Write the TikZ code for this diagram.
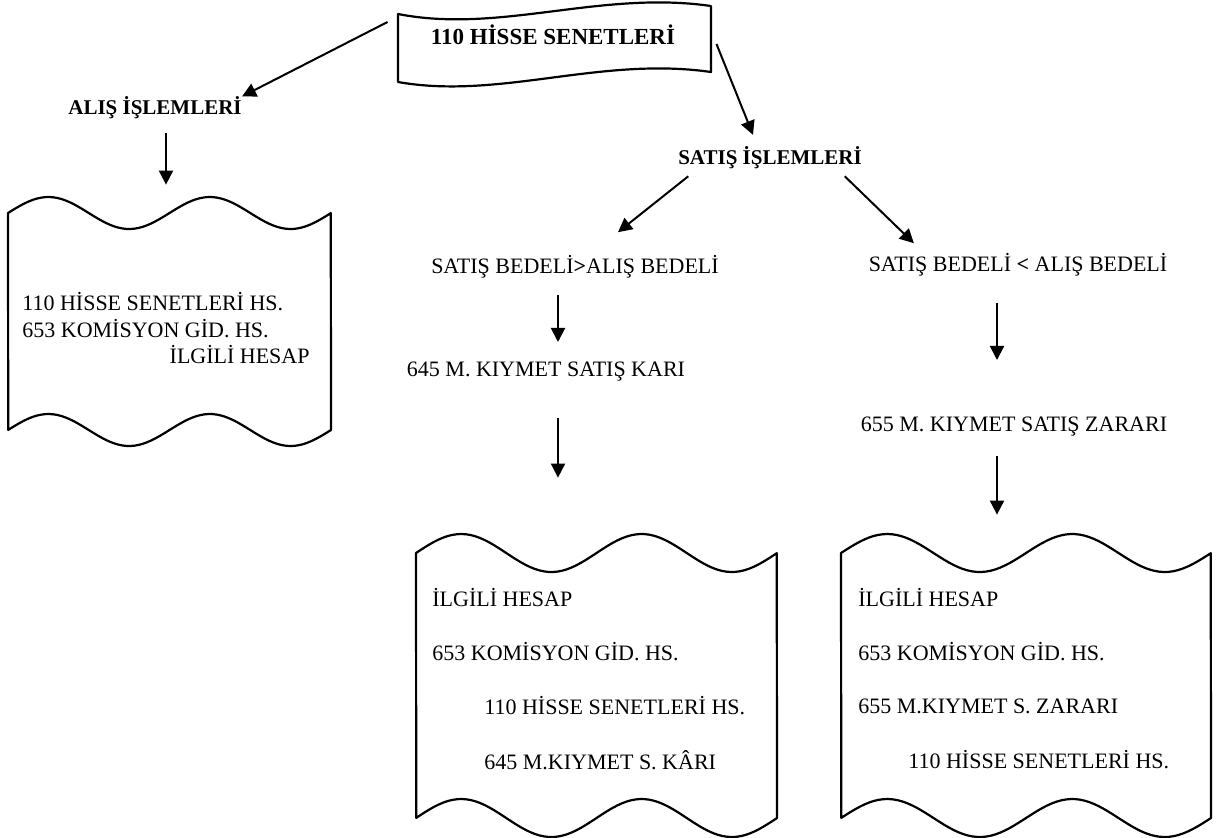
\documentclass[tikz,border=0pt]{standalone}
\usepackage{fontspec}
\setmainfont{Liberation Serif}
\usetikzlibrary{arrows.meta}

% wavy document outline: left, right, top, bottom, wave height
\newcommand{\wavydoc}[5]{%
\draw[docline] plot[domain=0:1, samples=80, variable=\t] ({#1+(#2-#1)*\t},{#3-#5*sin(720*\t)})
  -- plot[domain=1:0, samples=80, variable=\t] ({#1+(#2-#1)*\t},{#4-#5*sin(720*\t)}) -- cycle;}

\begin{document}
\begin{tikzpicture}[x=0.5pt, y=-0.5pt,
  docline/.style={line width=1.1pt, line join=round},
  arr/.style={-{Triangle[length=7pt, width=7pt]}, line width=1pt},
  head/.style={rectangle, draw=none, inner sep=0pt, font=\fontsize{10.5}{12}\selectfont\bfseries},
  txt/.style={rectangle, draw=none, inner sep=0pt, font=\fontsize{11}{13}\selectfont},
  boxarea/.style={rectangle, draw=none, inner sep=0pt}]
\useasboundingbox (0,0) rectangle (1219,837);
%%%%%%%%%%%%%%%%%%%%%%%%%%%%%%% 110 Hisse Senetleri
\draw[docline] (398,14) .. controls (500,34) and (600,-10) .. (711,6) -- (711,72)
  .. controls (600,56) and (500,100) .. (398,82) -- cycle;
\node[head, font=\fontsize{11.5}{13}\selectfont\bfseries](hisse) at (553,35){110 HİSSE SENETLERİ};
\node[head](alis) at (155,108){ALIŞ İŞLEMLERİ};
\node[head](satis) at (770,158){SATIŞ İŞLEMLERİ};
\draw[arr] ([xshift=-21.5pt, yshift=6.5pt]hisse.west) -- (alis.north east);
\draw[arr] ([xshift=20.5pt, yshift=-4.5pt]hisse.east) -- ([xshift=-8.5pt, yshift=5.8pt]satis.north);

\coordinate (colL) at (166,0);
\coordinate (colM) at (558,0);
\coordinate (colR) at (997,0);

%%%%%%%%%%%%%%%%%%%%%%%%%%%%%%% alis
\node[boxarea, minimum width=161.5pt, minimum height=108.5pt](alisbox) at (169.5,321.5){};
\wavydoc{8}{331}{213}{430}{16}
\node[txt, anchor=west](alis1) at (22,302){110 HİSSE SENETLERİ HS.};
\node[txt, anchor=west](alis2) at (22,329){653 KOMİSYON GİD. HS.};
\node[txt, anchor=east](alis3) at (310,355){İLGİLİ HESAP};
\draw[arr, shorten <=6.85pt, shorten >=14pt] (alis.south -| colL) -- (alisbox.north -| colL);

%%%%%%%%%%%%%%%%%%%%%%%%%%%%%%% satis: kar
\node[txt](buyuk) at (575,267){SATIŞ BEDELİ\textbf{>}ALIŞ BEDELİ};
\node[txt](kar) at (546,372){645 M. KIYMET SATIŞ KARI};
\node[boxarea, minimum width=180.5pt, minimum height=132.5pt](karbox) at (596.5,685.5){};
\wavydoc{416}{777}{553}{818}{19}
\node[txt, anchor=west](kar1) at (432,598){İLGİLİ HESAP};
\node[txt, anchor=west](kar2) at (432,652){653 KOMİSYON GİD. HS.};
\node[txt, anchor=west](kar3) at (484,706){110 HİSSE SENETLERİ HS.};
\node[txt, anchor=west](kar4) at (484,760){645 M.KIYMET S. KÂRI};
\draw[arr] ([xshift=5.2pt, yshift=-3.35pt]satis.south west) -- ([xshift=21.5pt, yshift=11.5pt]buyuk.north);
\draw[arr, shorten <=8pt, shorten >=10pt] (buyuk.south -| colM) -- (kar.north -| colM);
\draw[arr, shorten <=18pt, shorten >=37.5pt] (kar.south -| colM) -- (karbox.north -| colM);

%%%%%%%%%%%%%%%%%%%%%%%%%%%%%%% satis: zarar
\node[txt](kucuk) at (1018,265){SATIŞ BEDELİ \textbf{<} ALIŞ BEDELİ};
\node[txt](zarar) at (1014,427){655 M. KIYMET SATIŞ ZARARI};
\node[boxarea, minimum width=185pt, minimum height=132.5pt](zararbox) at (1026,685.5){};
\wavydoc{841}{1211}{553}{818}{19}
\node[txt, anchor=west](zarar1) at (858,598){İLGİLİ HESAP};
\node[txt, anchor=west](zarar2) at (858,652){653 KOMİSYON GİD. HS.};
\node[txt, anchor=west](zarar3) at (858,706){655 M.KIYMET S. ZARARI};
\node[txt, anchor=west](zarar4) at (908,760){110 HİSSE SENETLERİ HS.};
\draw[arr] ([xshift=-8.7pt, yshift=-3.35pt]satis.south east) -- ([xshift=22.75pt, yshift=5pt]kucuk.north west);
\draw[arr, shorten <=13pt, shorten >=28.5pt] (kucuk.south -| colR) -- (zarar.north -| colR);
\draw[arr, shorten <=9.5pt, shorten >=19pt] (zarar.south -| colR) -- (zararbox.north -| colR);
\end{tikzpicture}
\end{document}
